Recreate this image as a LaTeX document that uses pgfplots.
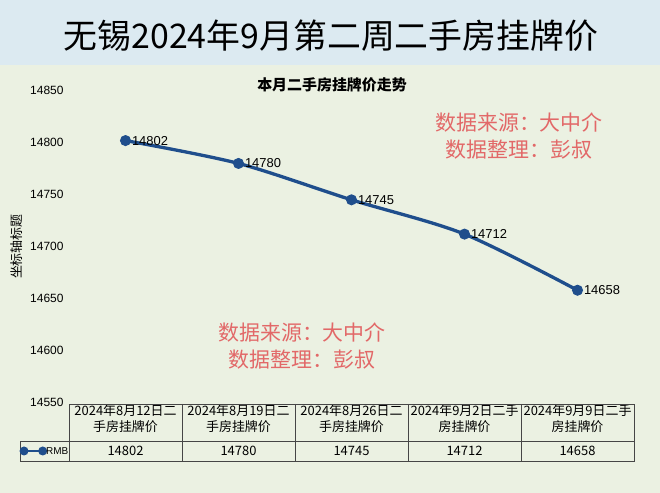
\documentclass[border=0pt]{standalone}
\usepackage{pgfplots}
\pgfplotsset{compat=1.18}
\usepackage{fontspec}
\setmainfont{Liberation Sans}
\newfontfamily\cjk{Noto Sans CJK SC}
\definecolor{bg}{RGB}{235,241,226}
\definecolor{band}{RGB}{220,234,241}
\definecolor{lineblue}{RGB}{31,78,140}
\definecolor{wm}{RGB}{226,104,104}
\definecolor{tbl}{RGB}{70,70,70}
\begin{document}
\begin{tikzpicture}[x=1bp,y=1bp]
\fill[bg] (0,0) rectangle (660,493);
\fill[band] (0,428) rectangle (660,493);
\useasboundingbox (0,0) rectangle (660,493);
\node[font=\cjk\fontsize{34}{40}\selectfont] at (331,457) {无锡2024年9月第二周二手房挂牌价};
\node[font=\cjk\bfseries\fontsize{15}{18}\selectfont] at (332,408) {本月二手房挂牌价走势};
\node[font=\cjk\fontsize{21}{27}\selectfont, text=wm, align=center] at (519,357) {数据来源：大中介\\[1bp]数据整理：彭叔};
\node[font=\cjk\fontsize{21}{27}\selectfont, text=wm, align=center] at (302,147) {数据来源：大中介\\[1bp]数据整理：彭叔};
\begin{axis}[
  at={(69bp,90.5bp)}, anchor=south west,
  scale only axis, width=565bp, height=311.8bp,
  xmin=-0.5, xmax=4.5, ymin=14550, ymax=14850,
  ytick={14550,14600,14650,14700,14750,14800,14850},
  scaled y ticks=false,
  xtick=data,
  xticklabels={{2024年8月12日二\\手房挂牌价},{2024年8月19日二\\手房挂牌价},{2024年8月26日二\\手房挂牌价},{2024年9月2日二手\\房挂牌价},{2024年9月9日二手\\房挂牌价}},
  xticklabel style={font=\cjk\fontsize{13}{16}\selectfont, align=center, anchor=center, yshift=-16bp},
  yticklabel style={font=\fontsize{12}{14}\selectfont, xshift=-2bp},
  axis line style={draw=none},
  major tick length=0pt,
  /pgf/number format/.cd, 1000 sep={}, assume math mode=true,
  /pgfplots/.cd,
  ylabel={坐标轴标题},
  every axis y label/.style={at={(rel axis cs:0,0.5)}, xshift=-52bp, rotate=90, anchor=center, font=\cjk\fontsize{13}{15}\selectfont},
  clip=false,
]
\addplot[color=lineblue, line width=3.3bp, smooth, mark=*, mark size=5bp,
  mark options={fill=lineblue, draw=lineblue, line width=1bp},
  nodes near coords,
  nodes near coords style={anchor=west, xshift=5bp, yshift=0bp, font=\fontsize{13}{15}\selectfont, text=black, inner sep=1bp}]
  coordinates {(0,14802) (1,14780) (2,14745) (3,14712) (4,14658)};
\node[font=\cjk\fontsize{13}{16}\selectfont, yshift=-48.5bp] at (axis cs:0,14550) {14802};
\node[font=\cjk\fontsize{13}{16}\selectfont, yshift=-48.5bp] at (axis cs:1,14550) {14780};
\node[font=\cjk\fontsize{13}{16}\selectfont, yshift=-48.5bp] at (axis cs:2,14550) {14745};
\node[font=\cjk\fontsize{13}{16}\selectfont, yshift=-48.5bp] at (axis cs:3,14550) {14712};
\node[font=\cjk\fontsize{13}{16}\selectfont, yshift=-48.5bp] at (axis cs:4,14550) {14658};
\end{axis}
\draw[tbl, line width=0.9bp] (69,89) rectangle (634,32);
\draw[tbl, line width=0.9bp] (20.7,51.5) -- (634,51.5);
\draw[tbl, line width=0.9bp] (20.7,51.5) rectangle (69,32);
\foreach \xx in {182,295,408,521}{\draw[tbl, line width=0.9bp] (\xx,89) -- (\xx,32);}
\draw[lineblue, line width=2.5bp] (24,42) -- (42.7,42);
\fill[lineblue] (24,42) circle (4.5);
\fill[lineblue] (42.7,42) circle (4.5);
\node[anchor=west, inner sep=0pt, font=\fontsize{10}{12}\selectfont] at (46,42) {RMB};
\end{tikzpicture}
\end{document}
